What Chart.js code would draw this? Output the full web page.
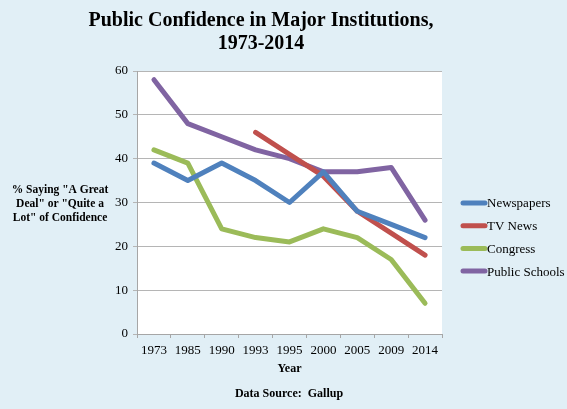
<!DOCTYPE html>
<html>
<head>
<meta charset="utf-8">
<script src="https://cdn.jsdelivr.net/npm/chart.js@4.4.1/dist/chart.umd.min.js"></script>
<style>
  html, body { margin: 0; padding: 0; background: #e1eff6; }
  #wrap { width: 567px; height: 409px; position: relative; }
</style>
</head>
<body>
<div id="wrap"><canvas id="chart"></canvas></div>
<script>
// years on the x axis
const years = ['1973', '1985', '1990', '1993', '1995', '2000', '2005', '2009', '2014'];
// % saying "a great deal" or "quite a lot"
const newspapers = [39, 35, 39, 35, 30, 37, 28, 25, 22];
const tvNews = [null, null, null, 46, 41, 36, 28, 23, 18];
const congress = [42, 39, 24, 22, 21, 24, 22, 17, 7];
const publicSchools = [58, 48, 45, 42, 40, 37, 37, 38, 26];
const yTicks = [0, 10, 20, 30, 40, 50, 60];

const serif = '"Liberation Serif", "DejaVu Serif", serif';

// title, y label, legend and source text drawn by hand
const textPlugin = {
    id: 'texts',
    afterDraw(chart) {
        const ctx = chart.ctx;
        ctx.save();
        ctx.fillStyle = '#000';
        ctx.textAlign = 'center';
        ctx.textBaseline = 'middle';
        ctx.font = 'bold 20px ' + serif;
        ctx.fillText('Public Confidence in Major Institutions,', 261, 21);
        ctx.fillText('1973-2014', 261, 44);

        ctx.font = 'bold 11.5px ' + serif;
        ctx.fillText('% Saying "A Great', 60, 190);
        ctx.fillText('Deal" or "Quite a', 60, 204);
        ctx.fillText('Lot" of Confidence', 60, 218);

        ctx.font = 'bold 12px ' + serif;
        ctx.fillText('Data Source:  Gallup', 289, 394);

        // legend
        ctx.textAlign = 'left';
        ctx.font = '13px ' + serif;
        chart.data.datasets.forEach((ds, i) => {
            const y = 203 + i * 22.7;
            ctx.strokeStyle = ds.borderColor;
            ctx.lineWidth = 5;
            ctx.lineCap = 'round';
            ctx.beginPath();
            ctx.moveTo(463, y);
            ctx.lineTo(485, y);
            ctx.stroke();
            ctx.fillText(ds.label, 487, y + 1);
        });
        ctx.restore();
    }
};

const plotBg = {
    id: 'plotBg',
    beforeDraw(chart) {
        const a = chart.chartArea;
        chart.ctx.save();
        chart.ctx.fillStyle = '#ffffff';
        chart.ctx.fillRect(a.left, a.top, a.right - a.left, a.bottom - a.top);
        chart.ctx.restore();
    }
};

function line(label, data, color) {
    return {
        label: label,
        data: data,
        borderColor: color,
        backgroundColor: color,
        borderWidth: 5,
        pointRadius: 0,
        tension: 0,
        borderJoinStyle: 'round',
        borderCapStyle: 'round'
    };
}

new Chart(document.getElementById('chart'), {
    type: 'line',
    data: {
        labels: years,
        datasets: [
            line('Newspapers', newspapers, '#4f81bd'),
            line('TV News', tvNews, '#c0504d'),
            line('Congress', congress, '#9bbb59'),
            line('Public Schools', publicSchools, '#8064a2')
        ]
    },
    options: {
        responsive: true,
        maintainAspectRatio: false,
        animation: false,
        layout: { padding: { left: 107, right: 125, top: 71, bottom: 33 } },
        plugins: {
            legend: { display: false },
            tooltip: { enabled: false }
        },
        scales: {
            x: {
                offset: true,
                grid: { offset: true, drawOnChartArea: false, drawTicks: true, tickLength: 4, color: '#a6a6a6' },
                border: { color: '#a6a6a6' },
                ticks: { color: '#000', font: { family: serif, size: 13 }, padding: 5, maxRotation: 0 },
                title: { display: true, text: 'Year', color: '#000', font: { family: serif, size: 12, weight: 'bold' }, padding: 0 },
                afterFit(scale) { scale.height = 42; }
            },
            y: {
                min: 0,
                max: 60,
                afterBuildTicks(scale) { scale.ticks = yTicks.map(v => ({ value: v })); },
                grid: { color: '#b5b5b5', tickLength: 4 },
                border: { color: '#a6a6a6' },
                ticks: { color: '#000', font: { family: serif, size: 13 }, padding: 5 },
                afterFit(scale) { scale.width = 30; }
            }
        }
    },
    plugins: [plotBg, textPlugin]
});
</script>
</body>
</html>
